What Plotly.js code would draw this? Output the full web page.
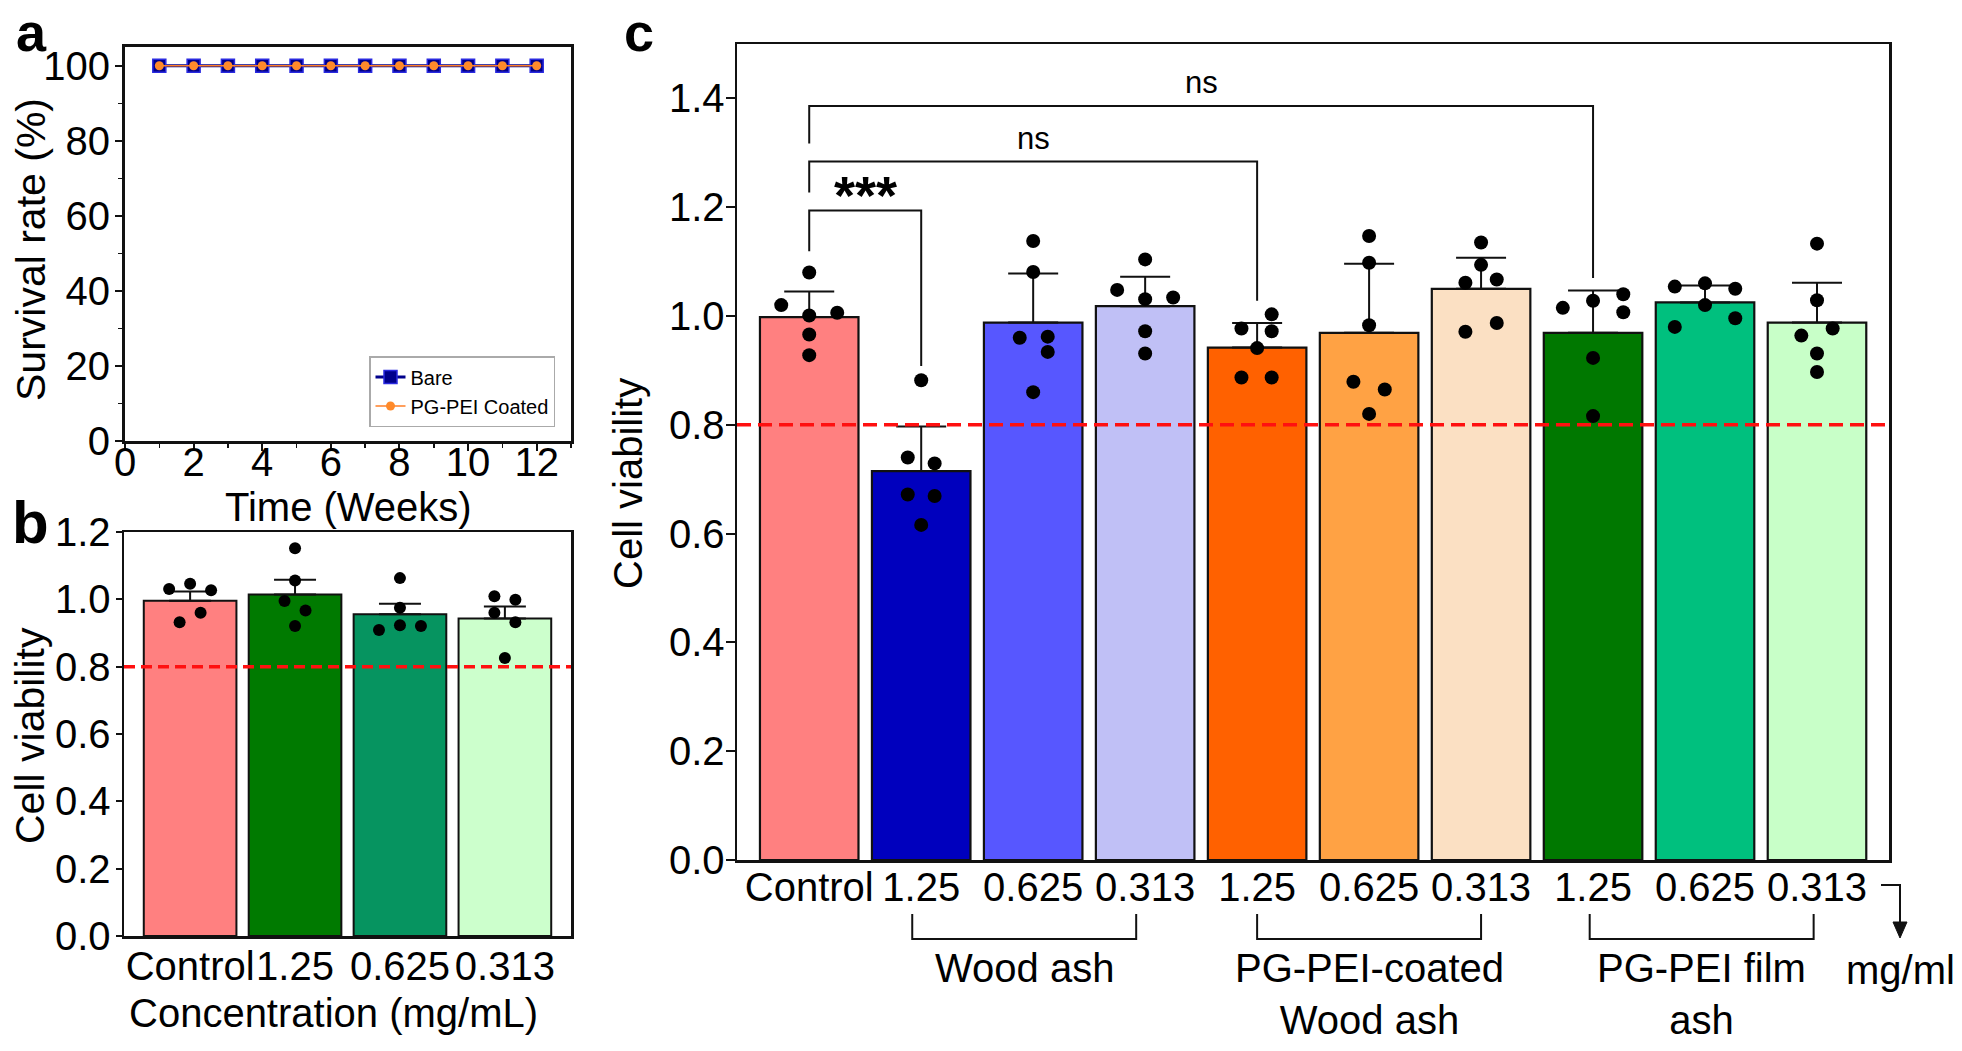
<!DOCTYPE html>
<html>
<head>
<meta charset="utf-8">
<script src="https://cdn.plot.ly/plotly-3.0.1.min.js"></script>
<style>
  html, body { margin: 0; padding: 0; background: #fff; }
  #chart { width: 1962px; height: 1051px; }
</style>
</head>
<body>
<div id="chart"></div>
<script>
/** Figure: survival (a), viability of films (b), viability of ashes (c) */

// ---- panel a data
const weeks = [1, 2, 3, 4, 5, 6, 7, 8, 9, 10, 11, 12];
const bareSurvival = [100, 100, 100, 100, 100, 100, 100, 100, 100, 100, 100, 100];
const coatedSurvival = [100, 100, 100, 100, 100, 100, 100, 100, 100, 100, 100, 100];

// ---- panel b data
const bLabels = ["Control", "1.25", "0.625", "0.313"];
const bMeans = [0.996, 1.014, 0.956, 0.943];
const bErrors = [0.027, 0.044, 0.031, 0.036];
const bPoints = [
  [1.031, 1.046, 1.027, 0.932, 0.960],
  [1.152, 1.056, 0.995, 0.967, 0.921],
  [1.063, 0.975, 0.909, 0.923, 0.921],
  [1.009, 0.999, 0.960, 0.932, 0.826]
];
const bColors = ["#FF8080", "#007A00", "#069460", "#CCFFCC"];

// ---- panel c data
const cLabels = ["Control", "1.25", "0.625", "0.313", "1.25", "0.625", "0.313", "1.25", "0.625", "0.313"];
const cMeans = [0.998, 0.715, 0.988, 1.018, 0.942, 0.969, 1.050, 0.969, 1.025, 0.988];
const cErrors = [0.047, 0.082, 0.090, 0.054, 0.045, 0.127, 0.057, 0.078, 0.031, 0.073];
const cPoints = [
  [1.080, 1.020, 1.001, 1.006, 0.966, 0.928],
  [0.882, 0.740, 0.729, 0.672, 0.669, 0.616],
  [1.138, 1.081, 0.960, 0.962, 0.934, 0.860],
  [1.104, 1.048, 1.031, 1.034, 0.972, 0.931],
  [1.003, 0.977, 0.972, 0.941, 0.887, 0.887],
  [1.147, 1.098, 0.983, 0.879, 0.865, 0.820],
  [1.135, 1.094, 1.061, 1.067, 0.987, 0.971],
  [1.040, 1.028, 1.015, 1.007, 0.923, 0.816],
  [1.054, 1.060, 1.050, 1.020, 0.980, 0.996],
  [1.133, 1.029, 0.964, 0.977, 0.931, 0.897]
];
const cColors = ["#FF8080", "#0000BE", "#5757FF", "#C0C0F6", "#FF6100",
                 "#FFA244", "#FBE0C3", "#007800", "#00C07E", "#C8FFC8"];
const groupNames = ["Wood ash", "PG-PEI-coated<br>Wood ash", "PG-PEI film<br>ash"];
const groupMembers = [[1, 2, 3], [4, 5, 6], [7, 8, 9]];
const sigPairs = [[0, 1], [0, 4], [0, 7]];
const sigLabels = ["***", "ns", "ns"];

// ---- layout helpers (dot spread and bracket geometry, not data)
const bJitter = [
  [-0.2, 0, 0.2, -0.1, 0.1], [0, 0, -0.1, 0.1, 0],
  [0, 0, -0.2, 0, 0.2], [-0.1, 0.1, -0.1, 0.1, 0]
];
const cJitter = [
  [0, -0.25, 0, 0.25, 0, 0], [0, -0.12, 0.12, -0.12, 0.12, 0],
  [0, 0, -0.12, 0.13, 0.13, 0], [0, -0.25, 0, 0.25, 0, 0],
  [0.13, -0.14, 0.13, 0, -0.14, 0.13], [0, 0, 0, -0.14, 0.14, 0],
  [0, 0, -0.14, 0.14, 0.14, -0.14], [0.27, 0, -0.27, 0.27, 0, 0],
  [-0.27, 0, 0.27, 0, -0.27, 0.27], [0, 0, -0.14, 0.14, 0, 0]
];
const sigTop = [1.194, 1.284, 1.386];
const sigLeftFoot = [1.119, 1.227, 1.317];
const sigRightFoot = [0.908, 1.028, 1.070];
const groupBracketShift = [-0.08, 0, -0.03];

const FONT = "Liberation Sans, Arial, sans-serif";
const W = 1962, H = 1051;
function px(x) { return x / W; }
function py(y) { return 1 - y / H; }

function spread(points, jitter) {
  var xs = [], ys = [];
  points.forEach(function (grp, i) {
    grp.forEach(function (v, j) { xs.push(i + jitter[i][j]); ys.push(v); });
  });
  return { x: xs, y: ys };
}

// Define Data
var bDots = spread(bPoints, bJitter);
var cDots = spread(cPoints, cJitter);
var idxB = bLabels.map(function (_, i) { return i; });
var idxC = cLabels.map(function (_, i) { return i; });

const chartdata = [
  {
    x: weeks, y: bareSurvival, xaxis: "x", yaxis: "y",
    mode: "lines+markers", name: "Bare",
    line: { color: "#00008B", width: 3 },
    marker: { symbol: "square", size: 13, color: "#00008B", line: { color: "#2A2AE0", width: 1.5 } }
  },
  {
    x: weeks, y: coatedSurvival, xaxis: "x", yaxis: "y",
    mode: "lines+markers", name: "PG-PEI Coated",
    line: { color: "#FF7F27", width: 1.3 },
    marker: { symbol: "circle", size: 9, color: "#FF8A2A" }
  },
  {
    type: "bar", x: idxB, y: bMeans, xaxis: "x2", yaxis: "y2", width: 0.883,
    showlegend: false,
    marker: { color: bColors, line: { color: "#111", width: 2 } },
    error_y: { type: "data", symmetric: false, array: bErrors, arrayminus: bErrors.map(function () { return 0; }),
               color: "#111", thickness: 2, width: 21 }
  },
  {
    x: bDots.x, y: bDots.y, xaxis: "x2", yaxis: "y2", mode: "markers", showlegend: false,
    marker: { color: "#000", size: 12 }, cliponaxis: false
  },
  {
    type: "bar", x: idxC, y: cMeans, xaxis: "x3", yaxis: "y3", width: 0.88,
    showlegend: false,
    marker: { color: cColors, line: { color: "#111", width: 2.2 } },
    error_y: { type: "data", symmetric: false, array: cErrors, arrayminus: cErrors.map(function () { return 0; }),
               color: "#111", thickness: 2, width: 25 }
  },
  {
    x: cDots.x, y: cDots.y, xaxis: "x3", yaxis: "y3", mode: "markers", showlegend: false,
    marker: { color: "#000", size: 14 }, cliponaxis: false
  }
];

// Shapes: threshold lines and brackets
var shapes = [];
[["x2", "y2", "11px,6px"], ["x3", "y3", "14px,7px"]].forEach(function (a) {
  shapes.push({ type: "line", xref: a[0] + " domain", x0: 0, x1: 1, yref: a[1], y0: 0.8, y1: 0.8,
                line: { color: "#FF1010", width: 3.5, dash: a[2] } });
});
sigPairs.forEach(function (p, i) {
  shapes.push({ type: "path", xref: "x3", yref: "y3",
    path: "M" + p[0] + "," + sigLeftFoot[i] + " L" + p[0] + "," + sigTop[i] +
          " L" + p[1] + "," + sigTop[i] + " L" + p[1] + "," + sigRightFoot[i],
    line: { color: "#111", width: 2 } });
});
groupMembers.forEach(function (g, i) {
  var a = g[0] + groupBracketShift[i], b = g[g.length - 1] + groupBracketShift[i];
  shapes.push({ type: "path", xref: "x3", yref: "paper",
    path: "M" + a + "," + py(914) + " L" + a + "," + py(939) + " L" + b + "," + py(939) + " L" + b + "," + py(914),
    line: { color: "#111", width: 2 } });
});
// unit arrow
shapes.push({ type: "path", xref: "paper", yref: "paper",
  path: "M" + px(1881) + "," + py(885) + " L" + px(1900) + "," + py(885) + " L" + px(1900) + "," + py(924),
  line: { color: "#111", width: 2 } });
shapes.push({ type: "path", xref: "paper", yref: "paper",
  path: "M" + px(1893) + "," + py(922) + " L" + px(1907) + "," + py(922) + " L" + px(1900) + "," + py(938) + " Z",
  fillcolor: "#111", line: { color: "#111", width: 1 } });

// Annotations: panel letters, axis titles, group labels, significance marks
function note(text, x, y, size, extra) {
  var a = { text: text, xref: "paper", yref: "paper", x: px(x), y: py(y), showarrow: false,
            xanchor: "center", yanchor: "middle", font: { family: FONT, size: size, color: "#000" } };
  return Object.assign(a, extra || {});
}
var annotations = [
  note("<b>a</b>", 31, 0, 54, { yanchor: "top", y: 1 }),
  note("<b>b</b>", 30, 522, 60),
  note("<b>c</b>", 639, 0, 54, { yanchor: "top", y: 1 }),
  note("Survival rate (%)", 31, 250, 41, { textangle: -90 }),
  note("Time (Weeks)", 348, 507, 40),
  note("Cell viability", 30, 736, 41, { textangle: -90 }),
  note("Concentration (mg/mL)", 333, 1013, 40),
  note("Cell viability", 628, 484, 40, { textangle: -90 }),
  note("mg/ml", 1900, 970, 40)
];
groupNames.forEach(function (name, i) {
  var g = groupMembers[i];
  annotations.push({ text: name, xref: "x3", yref: "paper",
    x: (g[0] + g[g.length - 1]) / 2 + groupBracketShift[i], y: py(944),
    showarrow: false, xanchor: "center", yanchor: "top",
    font: { family: FONT, size: 40, color: "#000" } });
});
sigPairs.forEach(function (p, i) {
  var star = sigLabels[i] === "***";
  annotations.push({ text: star ? "<b>" + sigLabels[i] + "</b>" : sigLabels[i],
    xref: "x3", yref: "y3", x: (p[0] + p[1]) / 2, y: sigTop[i], yshift: star ? -17 : 4,
    showarrow: false, xanchor: "center", yanchor: "bottom",
    font: { family: FONT, size: star ? 54 : 31, color: "#000" } });
});

var frame = { showline: true, mirror: true, linecolor: "#111", showgrid: false, zeroline: false,
              tickfont: { family: FONT, size: 40, color: "#000" } };

// Define Layout
const layout = {
  width: W, height: H,
  margin: { l: 0, r: 0, t: 0, b: 0, pad: 0 },
  paper_bgcolor: "#fff", plot_bgcolor: "#fff",
  font: { family: FONT, color: "#000" },
  showlegend: true,
  legend: { x: px(555), y: py(427), xanchor: "right", yanchor: "bottom",
            bgcolor: "#fff", bordercolor: "#AAA", borderwidth: 1.5,
            font: { family: FONT, size: 20, color: "#000" }, tracegroupgap: 0 },
  xaxis: Object.assign({}, frame, {
    domain: [px(125), px(571)], anchor: "y", range: [0, 13], dtick: 2, linewidth: 3, tickangle: 0,
    ticks: "outside", ticklen: 7, tickwidth: 2, tickcolor: "#111", ticklabelstandoff: -23,
    minor: { dtick: 1, ticks: "outside", ticklen: 4, tickcolor: "#111", tickwidth: 1.5 }
  }),
  yaxis: Object.assign({}, frame, {
    domain: [py(441), py(47)], anchor: "x", range: [0, 105], dtick: 20, linewidth: 3,
    ticks: "outside", ticklen: 7, tickwidth: 2, tickcolor: "#111", ticklabelstandoff: -3,
    minor: { dtick: 10, ticks: "outside", ticklen: 4, tickcolor: "#111", tickwidth: 1.5 }
  }),
  xaxis2: Object.assign({}, frame, {
    domain: [px(124), px(571)], anchor: "y2", range: [-0.63, 3.63], linewidth: 2.5, tickangle: 0,
    tickvals: idxB, ticktext: bLabels, ticks: "", ticklabelstandoff: -7
  }),
  yaxis2: Object.assign({}, frame, {
    domain: [py(936), py(532)], anchor: "x2", range: [0, 1.2], dtick: 0.2, tickformat: ".1f", linewidth: 2.5,
    ticks: "outside", ticklen: 6, tickwidth: 2, tickcolor: "#111", ticklabelstandoff: -3
  }),
  xaxis3: Object.assign({}, frame, {
    domain: [px(737), px(1889)], anchor: "y3", range: [-0.645, 9.643], linewidth: 2.5, tickangle: 0,
    tickvals: idxC, ticktext: cLabels, ticks: "", ticklabelstandoff: -10
  }),
  yaxis3: Object.assign({}, frame, {
    domain: [py(860), py(44)], anchor: "x3", range: [0, 1.5], dtick: 0.2, tickformat: ".1f", linewidth: 2.5,
    ticks: "outside", ticklen: 9, tickwidth: 2, tickcolor: "#111", ticklabelstandoff: -7
  }),
  shapes: shapes,
  annotations: annotations
};

// Define Config
const config = { displayModeBar: false, staticPlot: true };

// Display using Plotly
Plotly.newPlot("chart", chartdata, layout, config);
</script>
</body>
</html>
